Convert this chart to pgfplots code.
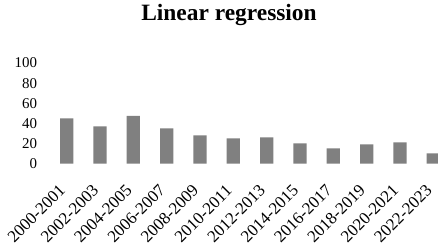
\documentclass[border=0pt]{standalone}
\usepackage{pgfplots}
\pgfplotsset{compat=1.18}
\usepackage{fontspec}
\setmainfont{Liberation Serif}
\definecolor{bargray}{RGB}{128,128,128}
\begin{document}
\begin{tikzpicture}
\begin{axis}[
  x=33.33bp, y=1.005bp,
  ybar, bar width=13.3bp,
  xmin=-0.5, xmax=11.2, ymin=0, ymax=100,
  axis line style={draw=none}, tick style={draw=none},
  ytick={0,20,...,100},
  xtick=data,
  xticklabels={2000-2001,2002-2003,2004-2005,2006-2007,2008-2009,2010-2011,2012-2013,2014-2015,2016-2017,2018-2019,2020-2021,2022-2023},
  x tick label style={xshift=-8.5bp, yshift=-16bp, rotate=45, anchor=north east, font=\fontsize{17}{17}\selectfont, inner sep=0pt},
  y tick label style={font=\fontsize{15}{15}\selectfont, xshift=-9.5bp},
  /pgf/number format/assume math mode=true,
  every axis title shift=0pt,
  title={Linear regression},
  title style={font=\fontsize{23.5}{23.5}\selectfont\bfseries, at={(axis cs:4.87,142)}, anchor=base, yshift=0pt},
  clip=false,
]
\addplot[fill=bargray, draw=none] coordinates {(0,45) (1,37) (2,47.5) (3,35) (4,28) (5,25) (6,26) (7,20) (8,15) (9,19) (10,21) (11,10)};
\coordinate (bbsw) at (axis cs:-2.001,-87.06);
\coordinate (bbne) at (axis cs:11.141,162.7);
\end{axis}
\pgfresetboundingbox
\path[use as bounding box] (bbsw) rectangle (bbne);
\end{tikzpicture}
\end{document}
